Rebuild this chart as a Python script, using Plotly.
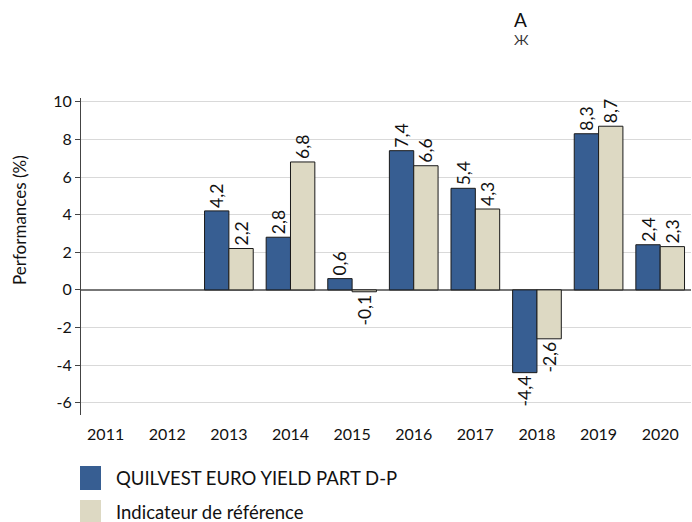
import plotly.graph_objects as go

years = ["2011", "2012", "2013", "2014", "2015", "2016", "2017", "2018", "2019", "2020"]
fund = [None, None, 4.2, 2.8, 0.6, 7.4, 5.4, -4.4, 8.3, 2.4]
bench = [None, None, 2.2, 6.8, -0.1, 6.6, 4.3, -2.6, 8.7, 2.3]
fund_name = "QUILVEST EURO YIELD PART D-P"
bench_name = "Indicateur de référence"
y_ticks = [-6, -4, -2, 0, 2, 4, 6, 8, 10]

BLUE = "#375E92"
BEIGE = "#DDD9C3"
FONT = "Lato, 'Open Sans', sans-serif"

def fmt(v):
    return None if v is None else f"{v:.1f}".replace(".", ",")

fig = go.Figure()
for name, vals, col in [(fund_name, fund, BLUE), (bench_name, bench, BEIGE)]:
    fig.add_trace(go.Bar(
        x=years, y=vals, name=name,
        marker=dict(color=col, line=dict(color="#1a1a1a", width=1)),
        text=[fmt(v) for v in vals], textposition="outside", textangle=-90,
        textfont=dict(size=17.5, color="#111"), cliponaxis=False,
        constraintext="none",
    ))

L, R, T, B = 81, 1, 98, 107
W, H = 692, 522
pw = W - L - R
ph = H - T - B

def px_x(px):
    return (px - L) / pw

def px_y(py):
    return (H - B - py) / ph

shapes = []
annotations = []
for i, (name, col) in enumerate([(fund_name, BLUE), (bench_name, BEIGE)]):
    cy = 478 + i * 34
    shapes.append(dict(type="rect", xref="paper", yref="paper",
                       x0=px_x(80), x1=px_x(101), y0=px_y(cy + 12), y1=px_y(cy - 12),
                       fillcolor=col, line=dict(width=0)))
    annotations.append(dict(xref="paper", yref="paper", x=px_x(114), y=px_y(cy),
                            text=name, showarrow=False, xanchor="left", yanchor="middle",
                            font=dict(size=18.5, color="#111", family=FONT)))

annotations.append(dict(xref="paper", yref="paper", x=px_x(19), y=px_y(220),
                        text="Performances (%)", textangle=-90, showarrow=False,
                        xanchor="center", yanchor="middle",
                        font=dict(size=17, color="#111", family=FONT)))
annotations.append(dict(xref="paper", yref="paper", x=px_x(520), y=px_y(20),
                        text="A", showarrow=False, xanchor="center", yanchor="middle",
                        font=dict(size=19, color="#111", family=FONT)))
annotations.append(dict(xref="paper", yref="paper", x=px_x(521), y=px_y(39),
                        text="Ж", showarrow=False, xanchor="center", yanchor="middle",
                        font=dict(size=14, color="#333", family=FONT)))

fig.update_layout(
    width=W, height=H,
    margin=dict(l=L, r=R, t=T, b=B, autoexpand=False),
    paper_bgcolor="white", plot_bgcolor="white",
    barmode="group", bargap=0.21, bargroupgap=0,
    showlegend=False,
    font=dict(family=FONT, size=15, color="#111"),
    shapes=shapes, annotations=annotations,
    xaxis=dict(type="category", range=[-0.4, 9.5], showgrid=False, showline=False, ticks="",
               tickfont=dict(size=16), ticklabelstandoff=8, automargin=False),
    yaxis=dict(range=[-6.65, 10.2], tickvals=y_ticks, ticktext=[str(v) for v in y_ticks],
               showgrid=True, gridcolor="#d9d9d9", gridwidth=1,
               zeroline=True, zerolinecolor="#777", zerolinewidth=1.5,
               showline=True, linecolor="#444", linewidth=1,
               ticks="outside", ticklen=5, tickcolor="#444",
               tickfont=dict(size=16), automargin=False),
)

fig.write_html("out.html", config={"displayModeBar": False},
               post_script="document.body.style.margin='0';document.body.style.overflow='hidden';")
